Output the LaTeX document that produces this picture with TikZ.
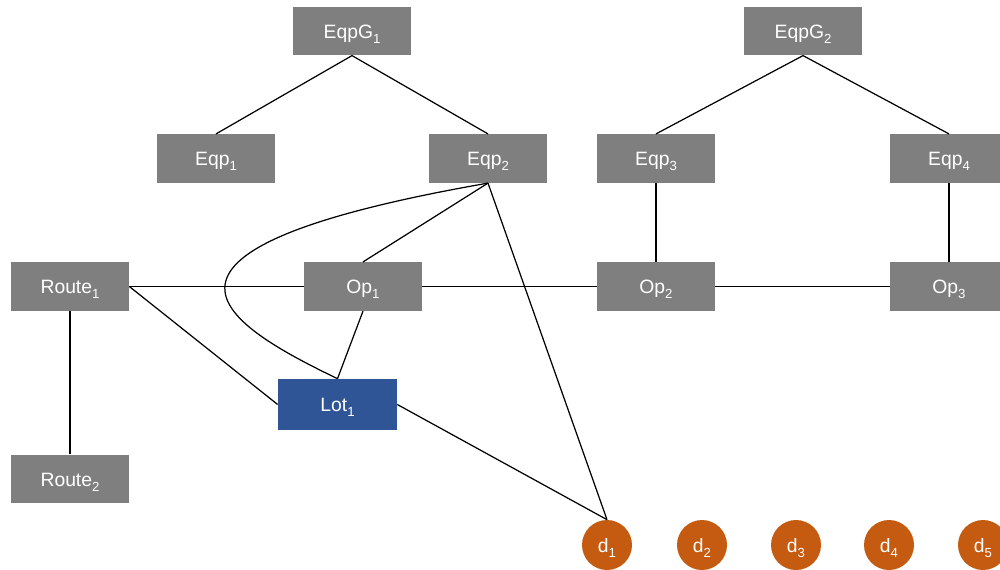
\documentclass[tikz,border=0pt]{standalone}
\usepackage{fontspec}
\setmainfont{Liberation Sans}
\usetikzlibrary{%
  calc,
  positioning
}
\definecolor{gris}{HTML}{7F7F7F}
\definecolor{bleu}{HTML}{2F5597}
\definecolor{rouille}{HTML}{C55A11}

\newcommand{\indice}[1]{\raisebox{-0.45ex}{\fontsize{7.5}{8}\selectfont #1}}

\tikzset{
  boite/.style={
    fill=gris, text=white,
    minimum width=2.36cm, minimum height=0.97cm,
    inner sep=0pt, text height=1.6ex, text depth=0pt,
    font=\fontsize{11}{13}\selectfont
  },
  lot/.style={boite, fill=bleu, minimum width=2.38cm, minimum height=1.02cm},
  disque/.style={
    circle, fill=rouille, text=white,
    minimum size=1.0cm, inner sep=0pt,
    text height=1.6ex, text depth=0pt,
    font=\fontsize{11}{13}\selectfont
  },
  lien/.style={draw=black, line width=0.7pt},
}

\begin{document}
\begin{tikzpicture}[
  x=0.02cm,
  y=-0.02cm,
]
  \clip ( 0.0, 0.0) rectangle (1000.0, 569.0) ;

  % equipements groupes
  \node [boite] (eqpg1) at (352.0, 31.0) {EqpG\indice{1}} ;
  \node [boite] (eqpg2) at (803.0, 31.0) {EqpG\indice{2}} ;

  % equipements
  \node [boite] (eqp1) at (216.0, 158.5) {Eqp\indice{1}} ;
  \node [boite] (eqp2) at (488.0, 158.5) {Eqp\indice{2}} ;
  \node [boite] (eqp3) at (656.0, 158.5) {Eqp\indice{3}} ;
  \node [boite] (eqp4) at (949.0, 158.5) {Eqp\indice{4}} ;

  % routes et operations
  \node [boite] (route1) at ( 70.0, 286.5) {Route\indice{1}} ;
  \node [boite] (op1)    at (363.0, 286.5) {Op\indice{1}} ;
  \node [boite] (op2)    at (656.0, 286.5) {Op\indice{2}} ;
  \node [boite] (op3)    at (949.0, 286.5) {Op\indice{3}} ;
  \node [boite] (route2) at ( 70.0, 479.0) {Route\indice{2}} ;

  % lot
  \node [lot] (lot1) at (337.5, 404.5) {Lot\indice{1}} ;

  % dates
  \foreach \i/\x in {1/607, 2/702, 3/796, 4/889, 5/983} {
    \node [disque] (d\i) at (\x, 545.0) {d\indice{\i}} ;
  }

  % arbres
  \foreach \a/\b in {eqpg1/eqp1, eqpg1/eqp2, eqpg2/eqp3, eqpg2/eqp4,
                     eqp3/op2, eqp4/op3, route1/route2,
                     eqp2/op1, op1/lot1, eqp2/d1} {
    \draw [lien] (\a.south) -- (\b.north) ;
  }

  % chaine horizontale
  \draw [lien] (route1.east) -- (op1.west) ;
  \draw [lien] (op1.east) -- (op2.west) ;
  \draw [lien] (op2.east) -- (op3.west) ;

  \draw [lien] (route1.east) -- (lot1.west) ;
  \draw [lien] (lot1.east) -- (d1.north) ;

  % courbe
  \draw [lien]
        (eqp2.south) .. controls (105.0, 250.0) and (220.0, 322.0) .. (lot1.north) ;

\end{tikzpicture}
\end{document}
